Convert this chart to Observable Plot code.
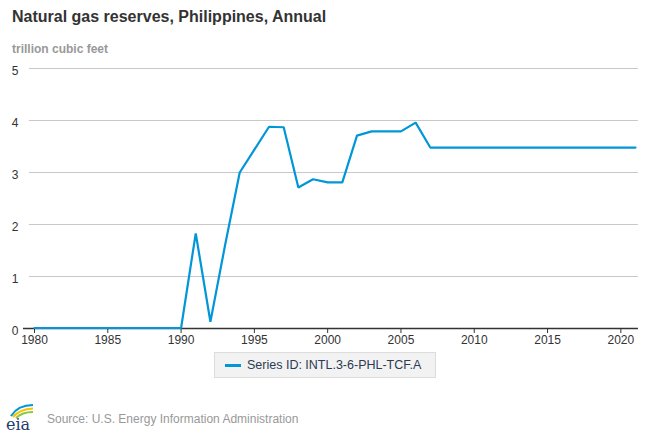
<!DOCTYPE html>
<html>
<head>
<meta charset="utf-8">
<script src="https://cdn.jsdelivr.net/npm/d3@7"></script>
<script src="https://cdn.jsdelivr.net/npm/@observablehq/plot@0.6"></script>
<style>
  html, body { margin: 0; padding: 0; background: #fff; }
  body { width: 650px; height: 433px; position: relative; overflow: hidden; font-family: "Liberation Sans", Arial, sans-serif; }
  #title { position: absolute; left: 12px; top: 8px; font-size: 16px; font-weight: bold; color: #333; }
  #subtitle { position: absolute; left: 12px; top: 42px; font-size: 12px; font-weight: bold; color: #999; }
  #chart { position: absolute; left: 0; top: 60px; }
  #legend { position: absolute; left: 214px; top: 352px; width: 222px; height: 26px; background: #f2f2f2; border: 1px solid #dcdcdc; box-sizing: border-box; }
  #legend .sw { position: absolute; left: 10px; top: 11px; width: 16px; height: 3px; background: #0096d7; }
  #legend .tx { position: absolute; left: 32px; top: 5px; font-size: 12.5px; color: #2b3b55; white-space: nowrap; }
  #logo { position: absolute; left: 4px; top: 401px; }
  #source { position: absolute; left: 47px; top: 412px; font-size: 12px; color: #999; }
</style>
</head>
<body>
<div id="title">Natural gas reserves, Philippines, Annual</div>
<div id="subtitle">trillion cubic feet</div>
<div id="chart"></div>
<div id="legend"><div class="sw"></div><div class="tx">Series ID: INTL.3-6-PHL-TCF.A</div></div>
<svg id="logo" width="34" height="32" viewBox="0 0 34 32">
  <path d="M7 15 Q14 4 29 4" fill="none" stroke="#0096d7" stroke-width="2.2"/>
  <path d="M9 16 Q16 8 29 7.5" fill="none" stroke="#f2c500" stroke-width="2"/>
  <path d="M12 17 Q18 11 29 11" fill="none" stroke="#8dc63f" stroke-width="2"/>
  <text x="2" y="29" font-family="DejaVu Serif, serif" font-size="16" fill="#1d3c6e">eia</text>
</svg>
<div id="source">Source: U.S. Energy Information Administration</div>
<script>
const years = [1980,1981,1982,1983,1984,1985,1986,1987,1988,1989,1990,1991,1992,1993,1994,1995,1996,1997,1998,1999,2000,2001,2002,2003,2004,2005,2006,2007,2008,2009,2010,2011,2012,2013,2014,2015,2016,2017,2018,2019,2020,2021];
const reserves = [0.01,0.01,0.01,0.01,0.01,0.01,0.01,0.01,0.01,0.01,0.01,1.83,0.13,1.6,3.0,3.44,3.88,3.87,2.71,2.87,2.81,2.81,3.71,3.79,3.79,3.79,3.96,3.48,3.48,3.48,3.48,3.48,3.48,3.48,3.48,3.48,3.48,3.48,3.48,3.48,3.48,3.48];
const yTicks = [0,1,2,3,4,5];
const xTicks = [1980,1985,1990,1995,2000,2005,2010,2015,2020];

const data = years.map((y, i) => ({year: y, value: reserves[i]}));

const chart = Plot.plot({
  width: 650,
  height: 290,
  marginTop: 8,
  marginBottom: 22,
  marginLeft: 34,
  marginRight: 15,
  style: {fontFamily: "Liberation Sans, Arial, sans-serif", fontSize: "12px", color: "#333", background: "#fff"},
  x: {domain: [1980, 2021], label: null},
  y: {domain: [0, 5], label: null},
  marks: [
    Plot.ruleY(yTicks.filter(d => d > 0), {x1: 1979.65, x2: 2021.2, stroke: "#c8c8c8", strokeWidth: 1}),
    Plot.ruleY([0], {x1: 1979.25, x2: 2021.2, stroke: "#333", strokeWidth: 1.5}),
    Plot.axisY(yTicks, {tickSize: 0, tickPadding: 16, fontSize: 12, fill: "#333", dy: 3, textAnchor: "end", tickFormat: d => String(d)}),
    Plot.axisX(xTicks, {tickSize: 5, tickPadding: 2, fontSize: 12, fill: "#333", stroke: "#333", tickFormat: d => String(d)}),
    Plot.lineY(data, {x: "year", y: "value", stroke: "#0096d7", strokeWidth: 2.2, strokeLinejoin: "miter"})
  ]
});
document.getElementById("chart").appendChild(chart);
</script>
</body>
</html>
